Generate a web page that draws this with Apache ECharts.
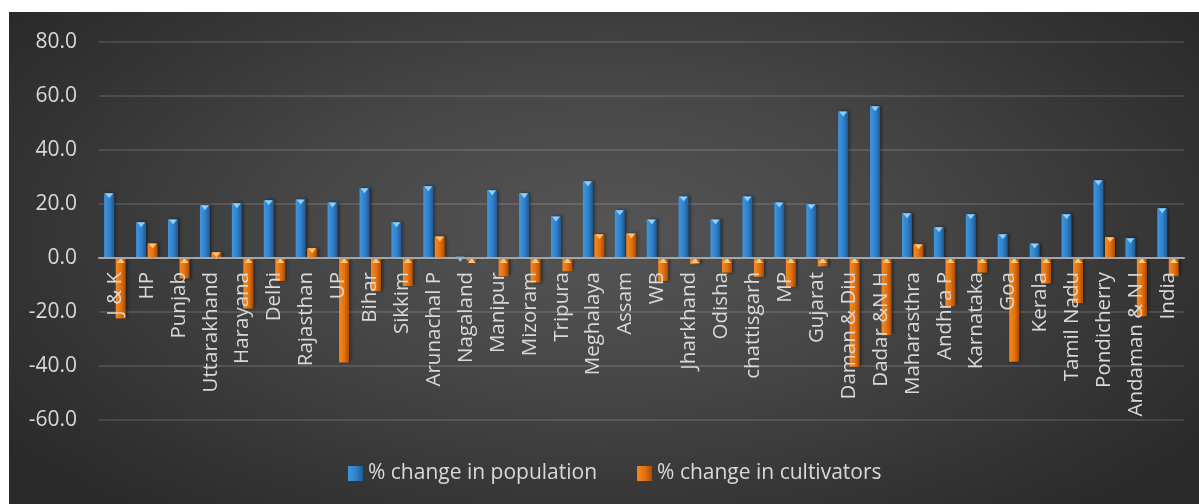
<!DOCTYPE html>
<html>
<head>
<meta charset="utf-8">
<script src="https://cdn.jsdelivr.net/npm/echarts@6/dist/echarts.min.js"></script>
<style>
  html, body { margin: 0; padding: 0; background: #ffffff; }
  #panel {
    position: absolute; left: 9px; top: 12px; width: 1190px; height: 492px;
    background: radial-gradient(ellipse 62% 75% at 50% 45%, #555555 0%, #474747 40%, #333333 80%, #2a2a2a 100%);
  }
  #chart { width: 1190px; height: 492px; }
</style>
</head>
<body>
<div id="panel"><div id="chart"></div></div>
<script>
// States / UTs, in the order they are plotted
const states = [
  'J & K', 'HP', 'Punjab', 'Uttarakhand', 'Harayana', 'Delhi', 'Rajasthan', 'UP',
  'Bihar', 'Sikkim', 'Arunachal P', 'Nagaland', 'Manipur', 'Mizoram', 'Tripura',
  'Meghalaya', 'Assam', 'WB', 'Jharkhand', 'Odisha', 'chattisgarh', 'MP', 'Gujarat',
  'Daman & Diu', 'Dadar &N H', 'Maharasthra', 'Andhra P', 'Karnataka', 'Goa',
  'Kerala', 'Tamil Nadu', 'Pondicherry', 'Andaman & N I', 'India'
];

// % change in population
const populationChange = [
  24.0, 13.2, 14.3, 19.5, 20.3, 21.4, 21.7, 20.6,
  25.8, 13.2, 26.6, 0.5, 25.1, 24.0, 15.4,
  28.4, 17.7, 14.3, 22.8, 14.3, 22.8, 20.6, 19.9,
  54.3, 56.2, 16.6, 11.4, 16.2, 8.8,
  5.4, 16.2, 28.8, 7.3, 18.4
];

// % change in cultivators
const cultivatorChange = [
  -22.4, 5.4, -7.6, 2.1, -18.7, -8.5, 3.6, -38.7,
  -12.3, -10.4, 8.0, -1.0, -6.8, -9.1, -4.9,
  8.8, 9.1, -8.5, -2.3, -5.4, -7.0, -10.7, -3.1,
  -40.4, -28.6, 5.1, -17.9, -5.4, -38.4,
  -9.5, -16.7, 7.7, -21.6, -6.8
];

// Value axis ticks
const yMin = -60, yMax = 80, yStep = 20;

const seriesNames = ['% change in population', '% change in cultivators'];

const BAR_W = 10;
const BAR_GAP = '15%';

const GRID = { left: 90, right: 15, top: 30, bottom: 84 };
const CHART_H = 492;
// distance from the bottom of the plot to the zero line, so the category axis sits on it
const zeroLift = (CHART_H - GRID.top - GRID.bottom) * (0 - yMin) / (yMax - yMin);

function sideGradient(light, mid, dark) {
  return new echarts.graphic.LinearGradient(0, 0, 1, 0, [
    { offset: 0, color: light },
    { offset: 0.55, color: mid },
    { offset: 1, color: dark }
  ]);
}

const blueFill = sideGradient('#3f97e0', '#2f80c9', '#1f5a92');
const orangeFill = sideGradient('#f58a22', '#e46f0c', '#a84c04');

// Light bevel triangle sitting at the upper face of each bar
function bevelData(values) {
  return values.map(v => ({
    value: v,
    symbolPosition: v >= 0 ? 'end' : 'start'
  }));
}

function bevelSeries(values, color) {
  return {
    type: 'pictorialBar',
    data: bevelData(values),
    symbol: 'triangle',
    symbolRotate: 180,
    symbolSize: [8, 5],
    barWidth: BAR_W,
    barGap: BAR_GAP,
    z: 4,
    silent: true,
    itemStyle: { color: color },
    legendHoverLink: false
  };
}

const chart = echarts.init(document.getElementById('chart'), null, { renderer: 'canvas' });

chart.setOption({
  animation: false,
  backgroundColor: 'transparent',
  textStyle: { fontFamily: 'Open Sans' },
  grid: Object.assign({ containLabel: false, outerBoundsMode: 'none' }, GRID),
  legend: {
    data: seriesNames.map((n, i) => ({
      name: n,
      icon: 'rect',
      itemStyle: { color: i === 0 ? blueFill : orangeFill }
    })),
    bottom: 15,
    left: 334,
    itemWidth: 15,
    itemHeight: 15,
    itemGap: 40,
    textStyle: { color: '#d9d9d9', fontSize: 21, fontFamily: 'Open Sans' }
  },
  xAxis: {
    type: 'category',
    data: states,
    position: 'bottom',
    offset: -zeroLift,
    z: 10,
    axisLine: { onZero: false, lineStyle: { color: '#a6a6a6', width: 2 } },
    axisTick: { show: false },
    axisLabel: {
      rotate: 90,
      interval: 0,
      margin: 14,
      color: '#d9d9d9',
      fontSize: 20.5,
      fontFamily: 'Open Sans'
    }
  },
  yAxis: {
    type: 'value',
    min: yMin,
    max: yMax,
    interval: yStep,
    axisLine: { show: false },
    axisTick: { show: false },
    axisLabel: {
      margin: 22,
      color: '#d9d9d9',
      fontSize: 21,
      fontFamily: 'Open Sans',
      formatter: v => v.toFixed(1)
    },
    splitLine: { lineStyle: { color: 'rgba(255,255,255,0.12)', width: 2 } }
  },
  series: [
    {
      name: seriesNames[0],
      type: 'bar',
      data: populationChange,
      barWidth: BAR_W,
      barGap: BAR_GAP,
      z: 3,
      itemStyle: {
        color: blueFill,
        shadowColor: 'rgba(0,0,0,0.45)',
        shadowBlur: 3,
        shadowOffsetX: 2
      }
    },
    {
      name: seriesNames[1],
      type: 'bar',
      data: cultivatorChange,
      barWidth: BAR_W,
      barGap: BAR_GAP,
      z: 3,
      itemStyle: {
        color: orangeFill,
        shadowColor: 'rgba(0,0,0,0.45)',
        shadowBlur: 3,
        shadowOffsetX: 2
      }
    },
    bevelSeries(populationChange, '#8dd0fb'),
    bevelSeries(cultivatorChange, '#ffc27a')
  ]
});
</script>
</body>
</html>
